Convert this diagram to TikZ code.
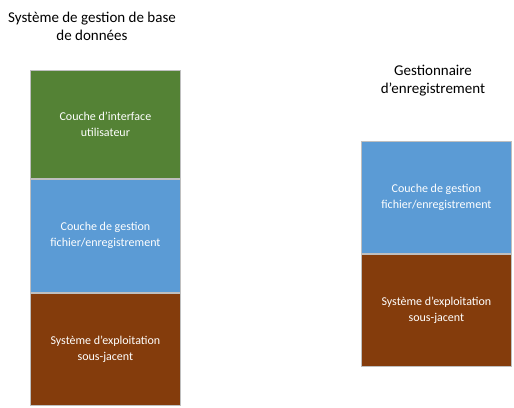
\documentclass[tikz,border=0pt]{standalone}
\usepackage{fontspec}
\setmainfont{Carlito}
\usetikzlibrary{positioning}
\definecolor{vertcouche}{HTML}{548235}
\definecolor{bleucouche}{HTML}{5B9BD5}
\definecolor{brunsys}{HTML}{843C0C}
\definecolor{bordgris}{HTML}{BFBFBF}
\tikzset{
  couche/.style={rectangle, draw=bordgris, line width=0.8pt, text=white,
    minimum width=150pt, minimum height=112pt, align=center, inner sep=0pt,
    font=\fontsize{12}{16}\selectfont},
  titre/.style={align=center, font=\fontsize{15}{18}\selectfont}
}
\begin{document}
\begin{tikzpicture}[x=1pt,y=-1pt]
    \useasboundingbox (0,0) rectangle (514,407);
    % pile de gauche
    \node[titre] (tsgbd) at (92,26) {Système de gestion de base\\de données};
    \node[couche, fill=vertcouche, minimum height=108pt, anchor=north west] (ui) at (30,70) {Couche d’interface\\utilisateur};
    \node[couche, fill=bleucouche, minimum height=113pt, below=0pt of ui] (gfa) {Couche de gestion\\fichier/enregistrement};
    \node[couche, fill=brunsys, minimum height=112pt, below=0pt of gfa] (osa) {Système d'exploitation\\sous-jacent};
    % pile de droite
    \node[titre] (tge) at (433,81) {Gestionnaire\\d’enregistrement};
    \node[couche, fill=bleucouche, anchor=north west] (gfb) at (361,141) {Couche de gestion\\fichier/enregistrement};
    \node[couche, fill=brunsys, below=0pt of gfb] (osb) {Système d'exploitation\\sous-jacent};
\end{tikzpicture}
\end{document}
